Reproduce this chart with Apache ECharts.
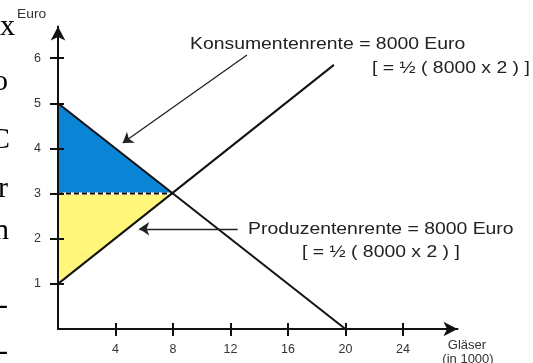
<!DOCTYPE html>
<html>
<head>
<meta charset="utf-8">
<script src="https://cdn.jsdelivr.net/npm/echarts@6/dist/echarts.min.js"></script>
<style>
  html, body { margin: 0; padding: 0; background: #fff; }
  #chart { width: 533px; height: 363px; }
</style>
</head>
<body>
<div id="chart"></div>
<script>
// Nachfrage / Angebot: Gläser (in 1000) gegen Preis (Euro)
const demandLine = [[0, 5], [20, 0]];
const supplyLine = [[0, 1], [19.2, 5.85]];
const priceLine = [[0, 3], [8, 3]];
const consumerSurplus = [[0, 5], [8, 3], [0, 3]];
const producerSurplus = [[0, 3], [8, 3], [0, 1]];
const consumerArrow = [[13.15, 6.07], [4.5, 4.12]];
const producerArrow = [[12.5, 2.22], [5.65, 2.22]];
const xTicks = [4, 8, 12, 16, 20, 24];
const yTicks = [1, 2, 3, 4, 5, 6];
// abgeschnittene Buchstaben vom Seitenrand links
const sideLetters = ['x', 'o', 'C', 'r', 'n', '-', '-'];

const chart = echarts.init(document.getElementById('chart'));

const GRID = { left: 58, top: 26.5, right: 75.5, bottom: 34 };
const gridW = 533 - GRID.left - GRID.right;
const gridH = 363 - GRID.top - GRID.bottom;

const FONT = 'Liberation Sans, Arial, sans-serif';
const INK = '#111';

const axisLabelStyle = { color: '#333', fontSize: 12.5, fontFamily: FONT };

function polygonSeries(points, color) {
  return {
    type: 'custom',
    data: points,
    z: 1,
    silent: true,
    renderItem: function (params, api) {
      if (params.dataIndex !== 0) return null;
      return {
        type: 'polygon',
        shape: { points: points.map(p => api.coord(p)) },
        style: { fill: color }
      };
    }
  };
}

function lineSeries(data, style, z) {
  return {
    type: 'line',
    data: data,
    symbol: 'none',
    silent: true,
    z: z,
    lineStyle: style
  };
}

function arrowSeries(coords) {
  return {
    type: 'lines',
    coordinateSystem: 'cartesian2d',
    silent: true,
    z: 4,
    symbol: ['none', 'arrow'],
    symbolSize: 10,
    lineStyle: { color: '#222', width: 1.3, opacity: 1 },
    data: [{ coords: coords }]
  };
}

const letterY = [27, 82, 140, 189, 231, 306, 352];
const letterX = [15, 8, 10, 8, 9, 8, 8];

const graphic = [
  { type: 'text', x: 190, y: 44, scaleX: 1.14, style: { text: 'Konsumentenrente = 8000 Euro', font: '17px ' + FONT, fill: '#222', verticalAlign: 'middle' } },
  { type: 'text', x: 372, y: 68.5, scaleX: 1.14, style: { text: '[ = ½ ( 8000 x 2 ) ]', font: '17px ' + FONT, fill: '#222', verticalAlign: 'middle' } },
  { type: 'text', x: 248, y: 229, scaleX: 1.14, style: { text: 'Produzentenrente = 8000 Euro', font: '17px ' + FONT, fill: '#222', verticalAlign: 'middle' } },
  { type: 'text', x: 302, y: 252, scaleX: 1.14, style: { text: '[ = ½ ( 8000 x 2 ) ]', font: '17px ' + FONT, fill: '#222', verticalAlign: 'middle' } },
  { type: 'text', x: 17, y: 15, scaleX: 1.15, style: { text: 'Euro', font: '12px ' + FONT, fill: '#333', verticalAlign: 'middle' } },
  { type: 'text', x: 467, y: 345, style: { text: 'Gläser', font: '13px ' + FONT, fill: '#333', align: 'center', verticalAlign: 'middle' } },
  { type: 'text', x: 468, y: 359, style: { text: '(in 1000)', font: '13px ' + FONT, fill: '#333', align: 'center', verticalAlign: 'middle' } }
];
sideLetters.forEach(function (ch, i) {
  graphic.push({
    type: 'text', x: letterX[i], y: letterY[i],
    style: { text: ch, font: '30px Liberation Serif, Times New Roman, serif', fill: '#000', align: 'right', verticalAlign: 'middle' }
  });
});

const option = {
  backgroundColor: '#fff',
  animation: false,
  grid: GRID,
  xAxis: [
    {
      type: 'value', min: 0, max: 27.8, position: 'bottom', z: 5,
      axisLine: { show: true, onZero: false, symbol: ['none', 'arrow'], symbolSize: [11, 14], lineStyle: { color: INK, width: 2 } },
      axisTick: { show: true, length: 7, customValues: xTicks, lineStyle: { color: INK, width: 2 } },
      axisLabel: Object.assign({ customValues: xTicks, margin: 14 }, axisLabelStyle),
      splitLine: { show: false }
    },
    {
      // nach oben zeigende Hälfte der Striche
      type: 'value', min: 0, max: 27.8, position: 'top', offset: -gridH, z: 5,
      axisLine: { show: false, onZero: false },
      axisTick: { show: true, length: 6, customValues: xTicks, lineStyle: { color: INK, width: 2 } },
      axisLabel: { show: false },
      splitLine: { show: false }
    }
  ],
  yAxis: [
    {
      type: 'value', min: 0, max: 6.7, position: 'left', z: 5,
      axisLine: { show: true, onZero: false, symbol: ['none', 'arrow'], symbolSize: [11, 14], lineStyle: { color: INK, width: 2 } },
      axisTick: { show: true, length: 8, customValues: yTicks, lineStyle: { color: INK, width: 2 } },
      axisLabel: Object.assign({ customValues: yTicks, margin: 17 }, axisLabelStyle),
      splitLine: { show: false }
    },
    {
      type: 'value', min: 0, max: 6.7, position: 'right', offset: -gridW, z: 5,
      axisLine: { show: false, onZero: false },
      axisTick: { show: true, length: 6, customValues: yTicks, lineStyle: { color: INK, width: 2 } },
      axisLabel: { show: false },
      splitLine: { show: false }
    }
  ],
  series: [
    polygonSeries(consumerSurplus, '#0a85d6'),
    polygonSeries(producerSurplus, '#fff67a'),
    lineSeries(priceLine, { color: '#fff', width: 2 }, 2),
    lineSeries(priceLine, { color: INK, width: 2, type: [5, 3] }, 3),
    lineSeries(demandLine, { color: INK, width: 2 }, 3),
    lineSeries(supplyLine, { color: INK, width: 2 }, 3),
    arrowSeries(consumerArrow),
    arrowSeries(producerArrow)
  ],
  graphic: graphic
};

chart.setOption(option);
</script>
</body>
</html>
